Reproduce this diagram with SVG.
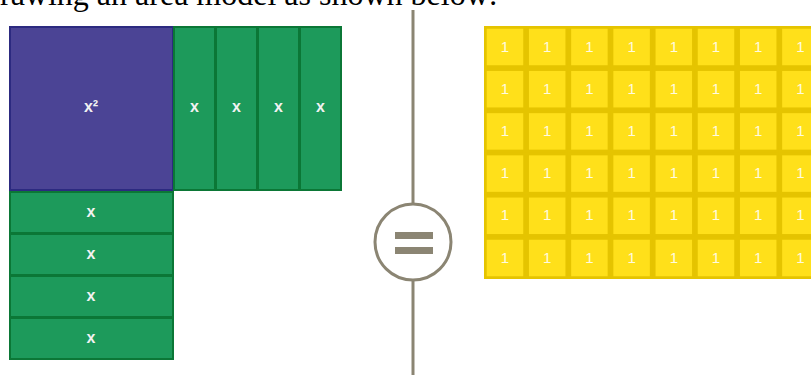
<svg xmlns="http://www.w3.org/2000/svg" width="811" height="375" viewBox="0 0 811 375">
<style>
.pu{fill:#4b4495;stroke:#2c2a80;stroke-width:2}
.gr{fill:#1d9a5b;stroke:#0b7736;stroke-width:2}
.ye{fill:#ffe01a;stroke:#e5c400;stroke-width:2.5}
.lx{font-family:"Liberation Sans",Arial,sans-serif;font-size:16px;font-weight:bold;fill:#f2f2f2;text-anchor:middle;dominant-baseline:central}
.l1{font-family:"Liberation Sans",Arial,sans-serif;font-size:15px;fill:#fffbe0;text-anchor:middle;dominant-baseline:central}
.hd{font-family:"Liberation Serif","Times New Roman",serif;font-size:32px;fill:#000}
.ln{stroke:#8b8573;stroke-width:3;fill:none}
</style>
<rect width="811" height="375" fill="#fff"/>
<text class="hd" x="0" y="5">rawing an area model as shown below:</text>
<g id="x2"><rect class="pu" x="10" y="27" width="163" height="163"/><text class="lx" x="91" y="106">x²</text></g>
<g id="xv1"><rect class="gr" x="174" y="27" width="41" height="163"/><text class="lx" x="194.5" y="106">x</text></g>
<g id="xv2"><rect class="gr" x="216" y="27" width="41" height="163"/><text class="lx" x="236.5" y="106">x</text></g>
<g id="xv3"><rect class="gr" x="258" y="27" width="41" height="163"/><text class="lx" x="278.5" y="106">x</text></g>
<g id="xv4"><rect class="gr" x="300" y="27" width="41" height="163"/><text class="lx" x="320.5" y="106">x</text></g>
<g id="xh1"><rect class="gr" x="10" y="192" width="163" height="41"/><text class="lx" x="91" y="211">x</text></g>
<g id="xh2"><rect class="gr" x="10" y="234" width="163" height="41"/><text class="lx" x="91" y="253">x</text></g>
<g id="xh3"><rect class="gr" x="10" y="276" width="163" height="41"/><text class="lx" x="91" y="295">x</text></g>
<g id="xh4"><rect class="gr" x="10" y="318" width="163" height="41"/><text class="lx" x="91" y="337">x</text></g>
<g id="connectors">
<line class="ln" x1="413" y1="10" x2="413" y2="204"/>
<line class="ln" x1="413" y1="280" x2="413" y2="375"/>
<circle class="ln" cx="413" cy="242" r="38"/>
<rect x="395" y="232" width="38" height="7" fill="#8b8573"/>
<rect x="395" y="247" width="38" height="7" fill="#8b8573"/>
</g>
<g id="ones">
<rect x="484" y="26" width="340" height="253" fill="#e5c400"/>
<g id="r1">
<rect class="ye" x="485.5" y="27.5" width="39" height="39"/><rect class="ye" x="527.7" y="27.5" width="39" height="39"/><rect class="ye" x="569.9" y="27.5" width="39" height="39"/><rect class="ye" x="612.1" y="27.5" width="39" height="39"/><rect class="ye" x="654.3" y="27.5" width="39" height="39"/><rect class="ye" x="696.5" y="27.5" width="39" height="39"/><rect class="ye" x="738.7" y="27.5" width="39" height="39"/><rect class="ye" x="780.9" y="27.5" width="39" height="39"/>
</g>
<use href="#r1" y="42.2"/><use href="#r1" y="84.4"/><use href="#r1" y="126.6"/><use href="#r1" y="168.8"/><use href="#r1" y="211"/>
<g id="t1">
<text class="l1" x="505" y="46">1</text><text class="l1" x="547.2" y="46">1</text><text class="l1" x="589.4" y="46">1</text><text class="l1" x="631.6" y="46">1</text><text class="l1" x="673.8" y="46">1</text><text class="l1" x="716" y="46">1</text><text class="l1" x="758.2" y="46">1</text><text class="l1" x="800.4" y="46">1</text>
</g>
<use href="#t1" y="42.2"/><use href="#t1" y="84.4"/><use href="#t1" y="126.6"/><use href="#t1" y="168.8"/><use href="#t1" y="211"/>
</g>
</svg>
